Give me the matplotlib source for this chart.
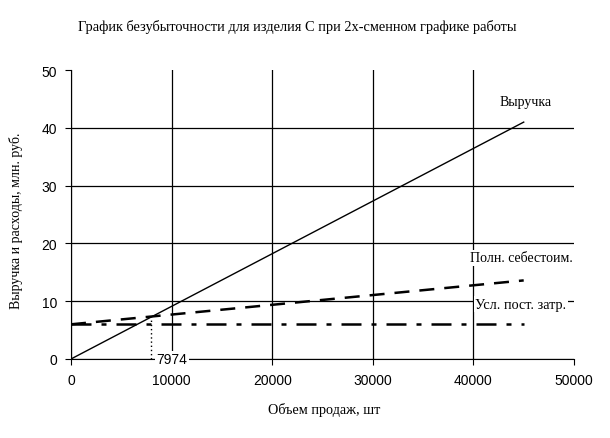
import matplotlib
matplotlib.use("Agg")
import matplotlib.pyplot as plt
import numpy as np

# data
volume = [0, 45000]
revenue = [0, 41.0]
full_cost = [6.0, 13.6]
fixed_cost = [6.0, 6.0]
breakeven = 7974
breakeven_y = 7.27

serif = ["Liberation Serif", "DejaVu Serif"]
narrow = ["Liberation Sans Narrow", "Liberation Sans", "DejaVu Sans"]

fig = plt.figure(figsize=(6.1, 4.39), dpi=100)
ax = fig.add_axes([0.1164, 0.18, 0.8246, 0.658])

ax.plot(volume, revenue, color="black", lw=1.0)
ax.plot(volume, full_cost, color="black", lw=1.8, dashes=(6, 4))
ax.plot(volume, fixed_cost, color="black", lw=1.8, dashes=(8, 4, 2, 4))
ax.plot([breakeven, breakeven], [0, breakeven_y], color="black", lw=1.0, ls=(0, (1, 2)))

ax.set_xlim(0, 50000)
ax.set_ylim(0, 50)
ax.set_xticks(np.arange(0, 50001, 10000))
ax.set_yticks(np.arange(0, 51, 10))
ax.grid(True, color="black", lw=0.9)
# no grid line along the top and right edge
ax.xaxis.get_gridlines()[-1].set_visible(False)
ax.yaxis.get_gridlines()[-1].set_visible(False)
for s in ["top", "right"]:
    ax.spines[s].set_visible(False)
ax.tick_params(direction="out", length=4, color="black", pad=6)
for lab in ax.get_xticklabels() + ax.get_yticklabels():
    lab.set_family(narrow)
    lab.set_fontsize(10)

box = dict(facecolor="white", edgecolor="none", pad=1)
ax.text(breakeven + 500, 0, "7974", family=narrow, fontsize=10, ha="left", va="center", bbox=box)
ax.text(42600, 44.6, "Выручка", family=serif, fontsize=10, ha="left", va="center", bbox=box)
ax.text(39700, 17.5, "Полн. себестоим.", family=serif, fontsize=10, ha="left", va="center", bbox=box)
ax.text(40200, 9.5, "Усл. пост. затр.", family=serif, fontsize=10.3, ha="left", va="center", bbox=box)

fig.text(0.487, 0.938, "График безубыточности для изделия С при 2х-сменном графике работы",
         family=serif, fontsize=10.4, ha="center", va="center")
fig.text(0.531, 0.066, "Объем продаж, шт", family=serif, fontsize=10.3, ha="center", va="center")
fig.text(0.027, 0.497, "Выручка и расходы, млн. руб.", family=serif, fontsize=10,
         rotation=90, ha="center", va="center")

fig.savefig("out.png", dpi=100)
